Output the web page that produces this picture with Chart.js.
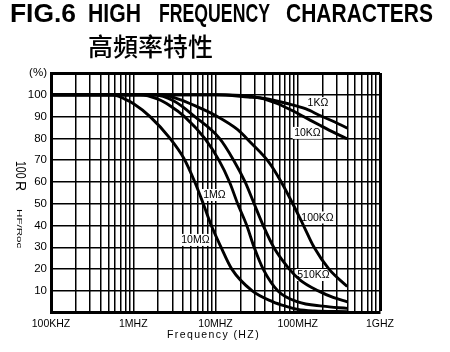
<!DOCTYPE html>
<html><head><meta charset="utf-8">
<script src="https://cdn.jsdelivr.net/npm/chart.js@4.4.1/dist/chart.umd.min.js"></script>
<style>
html,body{margin:0;padding:0;background:#fff;}
#wrap{position:relative;width:450px;height:352px;overflow:hidden;background:#fff;}
canvas{position:absolute;left:0;top:0;}
.t{position:absolute;white-space:nowrap;font-family:"Liberation Sans",Arial,sans-serif;color:#000;line-height:1;}
.tw{font-size:26.5px;font-weight:bold;top:0.3px;transform-origin:0 0;}
</style></head><body>
<div id="wrap">
<canvas id="c" width="450" height="352"></canvas>
<div id="titleBox"></div>
<div class="t" id="sub" style="left:88px;top:33px;font-size:25px;line-height:25px;font-weight:500;font-family:'Noto Sans CJK TC','Noto Sans CJK SC',sans-serif;">高頻率特性</div>
<div id="ytitle" style="position:absolute;left:27.8px;top:161px;width:100px;height:16px;transform:rotate(90deg);transform-origin:0 0;">
  <span class="t" style="left:0;top:0;font-size:14px;transform:scaleX(0.75);transform-origin:0 0;">100</span>
  <span class="t" style="left:20px;top:0;font-size:14px;">R</span>
  <span class="t" style="left:48px;top:4.8px;font-size:8px;transform:scaleX(1.45);transform-origin:0 0;">HF/Roc</span>
</div>
<div class="t" style="left:0;width:427px;text-align:center;top:329px;font-size:10.5px;letter-spacing:1.4px;">Frequency (HZ)</div>
</div>
<script>
// ---------- data (frequency in MHz, value in %) ----------
const f1K   = [0.1, 10, 25, 40, 74, 126, 186, 282, 400];
const v1K   = [100, 100, 99, 98.3, 96, 93.5, 90.5, 87.5, 84.7];
const f10K  = [0.1, 10, 35.5, 56, 83, 117.5, 186, 282, 400];
const v10K  = [100, 100, 98.5, 96, 93, 90, 86, 82.5, 79.8];
const f100K = [0.1, 2.24, 3.55, 5.6, 10, 18.6, 26.9, 44.7, 63, 87, 117.5, 158, 240, 400];
const v100K = [100, 100, 98, 95, 90.5, 84, 78, 69, 60, 50, 40, 30, 20, 12];
const f510K = [0.1, 1.78, 3.16, 5.6, 11.2, 16.6, 22.9, 29.5, 38, 51, 79, 107, 178, 269, 400];
const v510K = [100, 100, 97, 90, 80, 70, 60, 50, 40, 30, 20, 15, 10, 7, 5];
const f1M   = [0.1, 1.2, 2.0, 2.8, 4.2, 7.4, 11, 14.8, 18.6, 24, 29.5, 38, 57.5, 100, 200, 400];
const v1M   = [100, 100, 98, 95, 90, 80, 70, 60, 50, 40, 30, 20, 10, 5, 3, 2];
const f10M  = [0.1, 0.56, 0.79, 1.0, 1.6, 2.8, 4.1, 5.6, 7.1, 8.9, 11.7, 15.8, 28, 50, 71, 100, 158, 400];
const v10M  = [100, 100, 98, 96, 90, 80, 71, 60, 50, 40, 30, 20, 10, 5, 3, 1.5, 0.8, 0.5];

const seriesNames = ['1KΩ', '10KΩ', '100KΩ', '510KΩ', '1MΩ', '10MΩ'];
const seriesFreqs = [f1K, f10K, f100K, f510K, f1M, f10M];
const seriesVals  = [v1K, v10K, v100K, v510K, v1M, v10M];

// curve label anchors (data coordinates)
const labelFreq = [176, 131, 174, 155, 9.7, 5.7];
const labelVal  = [96.2, 82.5, 43.7, 17.3, 54, 33.4];

// axis ticks
const xDecades = [0.1, 1, 10, 100, 1000];
const xTickLabels = ['100KHZ', '1MHZ', '10MHZ', '100MHZ', '1GHZ'];
const yTicks = [0, 10, 20, 30, 40, 50, 60, 70, 80, 90, 100, 110];
const yTopLabel = '(%)';

// ---------- title ----------
const titleWords = [['FIG.6', 10, 75], ['HIGH', 88, 140], ['FREQUENCY', 159, 269], ['CHARACTERS', 286, 432]];
const tb = document.getElementById('titleBox');
titleWords.forEach(([w, x0, x1]) => {
  const s = document.createElement('span');
  s.className = 't tw';
  s.textContent = w;
  s.style.left = x0 + 'px';
  tb.appendChild(s);
  const nat = s.getBoundingClientRect().width;
  s.style.transform = 'scaleX(' + ((x1 - x0 + 1) / nat) + ')';
});

// ---------- chart ----------
const xGrid = [];
for (let d = 0; d < xDecades.length - 1; d++) {
  for (let m = 1; m <= 9; m++) xGrid.push(+(xDecades[d] * m).toPrecision(3));
}
xGrid.push(1000);

function near(a, b) { return Math.abs(a - b) < 1e-9 * Math.max(1, Math.abs(b)); }

const labelPlugin = {
  id: 'curveLabels',
  beforeDatasetsDraw(chart) {
    const ctx = chart.ctx, xs = chart.scales.x, ys = chart.scales.y;
    ctx.save();
    ctx.font = '10.5px "Liberation Sans", Arial, sans-serif';
    ctx.textAlign = 'center';
    ctx.textBaseline = 'middle';
    seriesNames.forEach((n, i) => {
      const px = xs.getPixelForValue(labelFreq[i]);
      const py = ys.getPixelForValue(labelVal[i]);
      const w = ctx.measureText(n).width;
      ctx.fillStyle = '#fff';
      ctx.fillRect(px - w / 2 - 1.5, py - 6, w + 3, 12);
      ctx.fillStyle = '#000';
      ctx.fillText(n, px, py + 0.5);
    });
    ctx.restore();
  }
};

new Chart(document.getElementById('c'), {
  type: 'line',
  data: {
    datasets: seriesNames.map((n, i) => ({
      label: n,
      data: seriesFreqs[i].map((f, k) => ({ x: f, y: seriesVals[i][k] })),
      borderColor: '#000',
      borderWidth: 2.9,
      pointRadius: 0,
      fill: false,
      cubicInterpolationMode: 'monotone'
    }))
  },
  options: {
    responsive: false,
    animation: false,
    events: [],
    layout: { padding: { left: 0, right: 70, top: 73, bottom: 0 } },
    plugins: { legend: { display: false }, tooltip: { enabled: false } },
    scales: {
      x: {
        type: 'logarithmic',
        min: 0.1, max: 1000,
        afterBuildTicks: s => { s.ticks = xGrid.map(v => ({ value: v })); },
        afterFit: s => { s.height = 39.3; },
        grid: {
          color: '#000',
          lineWidth: c => (c.tick && near(c.tick.value, 1000)) ? 3 : 1.5,
          drawTicks: false
        },
        border: { color: '#000', width: 3 },
        ticks: {
          autoSkip: false, maxRotation: 0, minRotation: 0, padding: 5, color: '#000',
          font: { family: '"Liberation Sans", Arial, sans-serif', size: 10.5 },
          callback: function (v) {
            const k = xDecades.findIndex(d => near(d, v));
            return k >= 0 ? xTickLabels[k] : '';
          }
        }
      },
      y: {
        min: 0, max: 110,
        afterBuildTicks: s => { s.ticks = yTicks.map(v => ({ value: v })); },
        afterFit: s => { s.width = 51; },
        grid: {
          color: '#000',
          lineWidth: c => (c.tick && c.tick.value === 110) ? 3 : 1.5,
          drawTicks: false
        },
        border: { color: '#000', width: 3 },
        ticks: {
          padding: 4, color: '#000',
          font: { family: '"Liberation Sans", Arial, sans-serif', size: 11.5 },
          callback: v => v === 110 ? yTopLabel : (v === 0 ? '' : String(v))
        }
      }
    }
  },
  plugins: [labelPlugin]
});
</script>
</body></html>
